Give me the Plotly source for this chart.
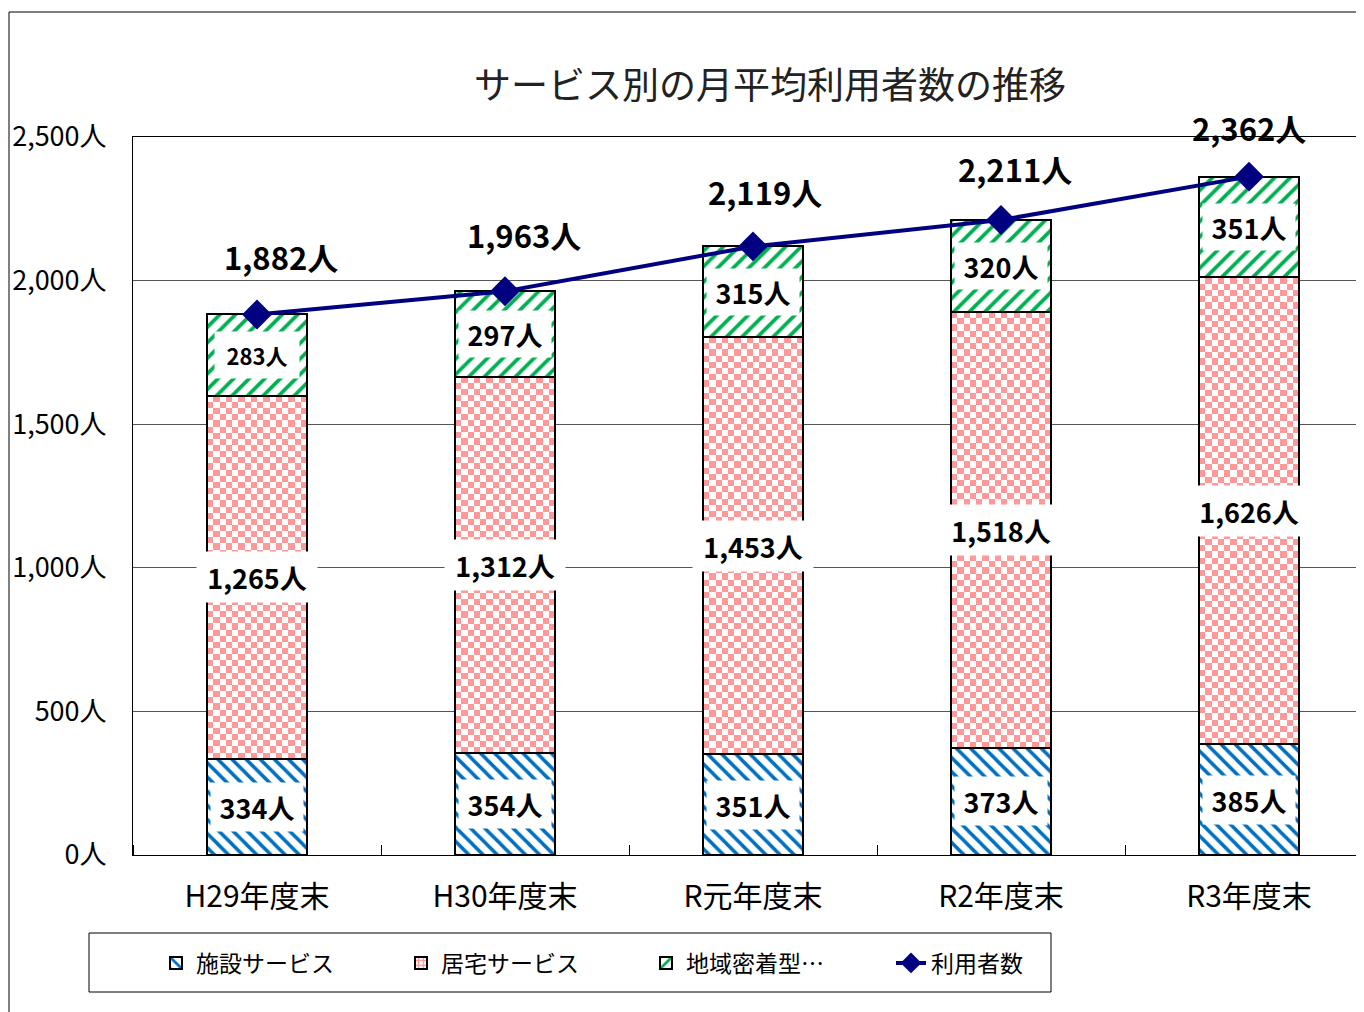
import numpy as np
import plotly.graph_objects as go

# ---------------- data ----------------
categories = ["H29年度末", "H30年度末", "R元年度末", "R2年度末", "R3年度末"]
shisetsu = [334, 354, 351, 373, 385]        # 施設サービス
kyotaku = [1265, 1312, 1453, 1518, 1626]    # 居宅サービス
chiiki = [283, 297, 315, 320, 351]          # 地域密着型…
totals = [1882, 1963, 2119, 2211, 2362]     # 利用者数
y_ticks = [0, 500, 1000, 1500, 2000, 2500]

# ---------------- styles ----------------
FONT = "Noto Sans CJK JP"
BLUE = "#0070C0"
PINK = "#FF9999"
GREEN = "#00B050"
NAVY = "#000080"
PAGE_OFF = 8                     # browser body margin
W, H = 1364, 1012
PLOT_LEFT, PLOT_TOP, PLOT_BOTTOM = 133, 137, 855   # page pixels
ML = PLOT_LEFT - PAGE_OFF
MT = PLOT_TOP - PAGE_OFF
MB = H - (PLOT_BOTTOM - PAGE_OFF)
MR = 0
PLOT_W = W - ML - MR
PLOT_H = H - MT - MB
CAT_PX = 248.0
BAR_PX = 100.0
Y_MAX = 2500
BAR_W = BAR_PX / CAT_PX
X_RANGE = [-0.5, -0.5 + PLOT_W / CAT_PX]
# offsets (px) of the total labels relative to the line markers
total_label_dx = [24, 19, 12, 14, 0]
total_label_dy = [58, 57, 55, 52, 49]

xs = list(range(len(categories)))
fig = go.Figure()

# 施設サービス
fig.add_trace(go.Bar(
    x=xs, y=shisetsu, name="施設サービス", width=BAR_W,
    marker=dict(color="white", line=dict(color="black", width=2),
                pattern=dict(shape="\\", fgcolor=BLUE, fgopacity=1, size=10,
                             solidity=0.35, fillmode="overlay")),
    hoverinfo="skip",
))
# 居宅サービス (outline only; checkerboard drawn below as heatmaps)
fig.add_trace(go.Bar(
    x=xs, y=kyotaku, name="居宅サービス", width=BAR_W, showlegend=False,
    marker=dict(color="rgba(0,0,0,0)", line=dict(color="black", width=2)),
    hoverinfo="skip",
))
# legend entry for 居宅サービス
fig.add_trace(go.Bar(
    x=[None], y=[None], name="居宅サービス", width=BAR_W,
    marker=dict(color="white", line=dict(color="black", width=2),
                pattern=dict(shape="+", fgcolor=PINK, fgopacity=1, size=6,
                             solidity=0.5, fillmode="overlay")),
    hoverinfo="skip",
))
# 地域密着型
fig.add_trace(go.Bar(
    x=xs, y=chiiki, name="地域密着型…", width=BAR_W,
    marker=dict(color="white", line=dict(color="black", width=2),
                pattern=dict(shape="/", fgcolor=GREEN, fgopacity=1, size=11,
                             solidity=0.34, fillmode="overlay")),
    hoverinfo="skip",
))

# checkerboard texture for 居宅サービス
SQ = 6.2
ncols = int(round(BAR_PX / SQ))
for i, (base, val) in enumerate(zip(shisetsu, kyotaku)):
    px_h = val * PLOT_H / Y_MAX
    nrows = max(1, int(round(px_h / SQ)))
    xe = np.linspace(i - BAR_W / 2, i + BAR_W / 2, ncols + 1)
    ye = np.linspace(base, base + val, nrows + 1)
    z = (np.add.outer(np.arange(nrows), np.arange(ncols)) % 2).astype(float)
    fig.add_trace(go.Heatmap(
        x=xe, y=ye, z=z, zmin=0, zmax=1, zsmooth=False,
        colorscale=[[0, "white"], [1, PINK]], showscale=False,
        hoverinfo="skip", showlegend=False,
    ))

# 利用者数 line
fig.add_trace(go.Scatter(
    x=xs, y=totals, name="利用者数", mode="lines+markers",
    line=dict(color=NAVY, width=4),
    marker=dict(symbol="diamond", size=23, color=NAVY),
    hoverinfo="skip",
))

annotations = []
# segment labels
for i in xs:
    s, k, c = shisetsu[i], kyotaku[i], chiiki[i]
    annotations.append(dict(
        x=i, y=s / 2, text=f"{s:,}人", showarrow=False,
        font=dict(family=FONT, size=27, color="black", weight="bold"),
        bgcolor="white", width=92, height=48, borderpad=0,
    ))
    annotations.append(dict(
        x=i, y=s + k / 2, text=f"{k:,}人", showarrow=False,
        font=dict(family=FONT, size=27, color="black", weight="bold"),
        bgcolor="white", width=120, height=50, borderpad=0,
    ))
    annotations.append(dict(
        x=i, y=s + k + c / 2, text=f"{c:,}人", showarrow=False,
        font=dict(family=FONT, size=22 if i == 0 else 27, color="black", weight="bold"),
        bgcolor="white", width=84 if i == 0 else 92, height=46, borderpad=0,
    ))
# total labels
for i, t in enumerate(totals):
    annotations.append(dict(
        x=i, y=t, text=f"{t:,}人", showarrow=False,
        xshift=total_label_dx[i], yshift=total_label_dy[i],
        font=dict(family=FONT, size=31, color="black", weight="bold"),
    ))


def px_x(p):
    """page x pixel -> paper coordinate"""
    return (p - PLOT_LEFT) / PLOT_W


def px_y(p):
    """page y pixel -> paper coordinate"""
    return (PLOT_BOTTOM - p) / PLOT_H


shapes = [
    # outer chart border
    dict(type="rect", xref="paper", yref="paper",
         x0=px_x(9), x1=px_x(W + 30), y0=px_y(H + 30), y1=px_y(12),
         line=dict(color="black", width=1), fillcolor="rgba(0,0,0,0)", layer="below"),
    # legend box
    dict(type="rect", xref="paper", yref="paper",
         x0=px_x(89), x1=px_x(1051), y0=px_y(992), y1=px_y(933),
         line=dict(color="black", width=1), fillcolor="white", layer="below"),
]

fig.update_layout(
    width=W, height=H,
    margin=dict(l=ML, r=MR, t=MT, b=MB),
    paper_bgcolor="white", plot_bgcolor="white",
    barmode="stack",
    font=dict(family=FONT, color="black"),
    title=dict(text="サービス別の月平均利用者数の推移",
               x=(770 - PAGE_OFF) / W, xanchor="center",
               y=1 - (86 - PAGE_OFF) / H, yanchor="middle",
               font=dict(family=FONT, size=37, color="#222222")),
    showlegend=True,
    legend=dict(orientation="h", x=px_x(156), xanchor="left",
                y=px_y(963), yanchor="middle",
                font=dict(family=FONT, size=23, color="black"),
                bgcolor="rgba(0,0,0,0)", borderwidth=0,
                entrywidth=200, entrywidthmode="pixels",
                traceorder="normal"),
    annotations=annotations,
    shapes=shapes,
)

fig.update_xaxes(
    range=X_RANGE, tickmode="array", tickvals=xs, ticktext=categories,
    showgrid=False, zeroline=False,
    showline=True, linecolor="black", linewidth=1, mirror=True,
    ticks="", ticklabelstandoff=15,
    tickfont=dict(family=FONT, size=30, color="black"),
    minor=dict(tickmode="linear", tick0=0.5, dtick=1, ticks="inside",
               ticklen=10, tickcolor="black", showgrid=False),
)
fig.update_yaxes(
    range=[0, Y_MAX], tickmode="array", tickvals=y_ticks,
    ticktext=[f"{v:,}人" for v in y_ticks],
    showgrid=True, gridcolor="#555555", gridwidth=1, zeroline=False,
    showline=True, linecolor="black", linewidth=1,
    ticks="", ticklabelstandoff=20,
    tickfont=dict(family=FONT, size=27, color="black"),
)

fig.write_html("out.html")
